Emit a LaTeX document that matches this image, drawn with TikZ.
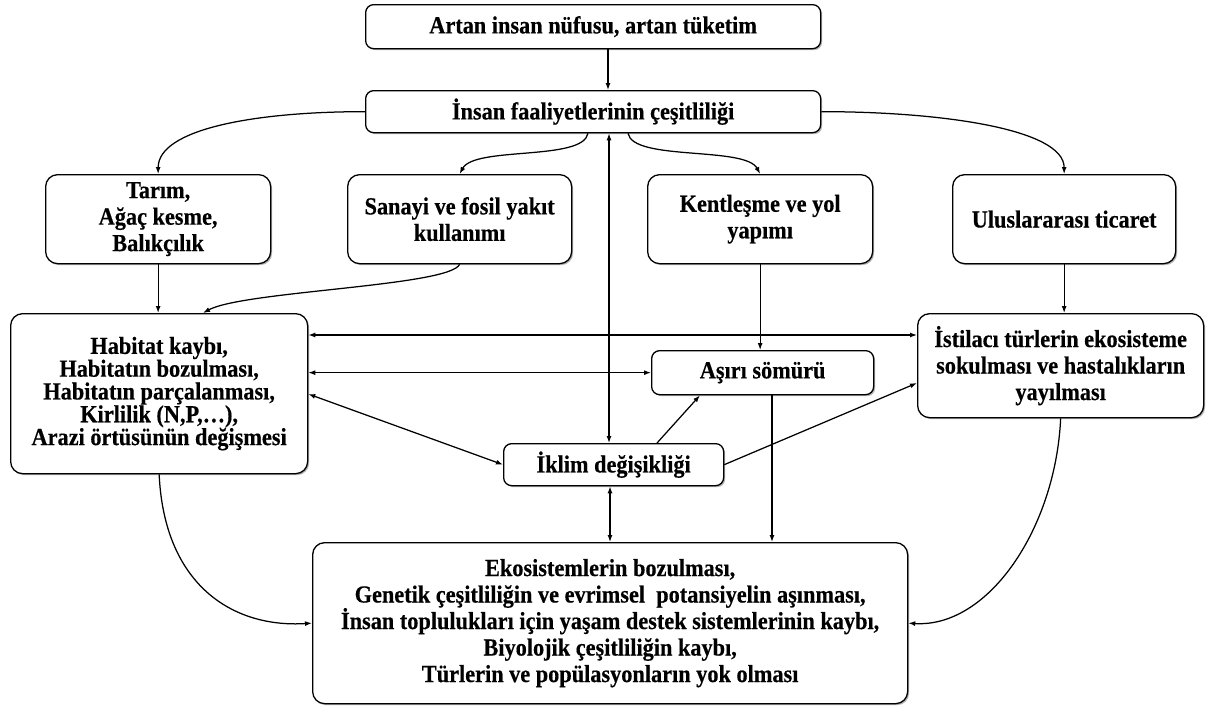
\documentclass[tikz,border=0pt]{standalone}
\usepackage{fontspec}
\setmainfont{Liberation Serif}
\newfontfamily\dfont{Liberation Serif Bold}[FakeStretch=0.91, FakeBold=0.4]
\usetikzlibrary{arrows.meta,calc,shadows}
\begin{document}
\begin{tikzpicture}[x=1pt,y=-1pt,
  box/.style={draw, line width=1.3pt, rounded corners=12pt, fill=white, align=center,
    anchor=north west, inner sep=0pt, font=\dfont\fontsize{24.5}{26.5}\selectfont,
    drop shadow={shadow xshift=1.5pt, shadow yshift=-1.5pt, fill=black, opacity=0.3}},
  sbox/.style={box, rounded corners=8pt},
  arr/.style={line width=1.25pt, -{Latex[length=7pt,width=5pt]}},
  darr/.style={line width=1.25pt, {Latex[length=7pt,width=5pt]}-{Latex[length=7pt,width=5pt]}},
]
\fill[white] (0,0) rectangle (1210,707);
\useasboundingbox (0,0) rectangle (1210,707);

\node[sbox, minimum width=455pt, minimum height=44pt] (top) at (365,4) {Artan insan nüfusu, artan tüketim};
\node[sbox, minimum width=455pt, minimum height=42pt] (ins) at (365,90) {İnsan faaliyetlerinin çeşitliliği};
\node[box, minimum width=225pt, minimum height=89pt] (tar) at (45,174) {Tarım,\\Ağaç kesme,\\Balıkçılık};
\node[box, minimum width=224pt, minimum height=89pt] (san) at (347,174) {Sanayi ve fosil yakıt\\kullanımı};
\node[box, minimum width=225pt, minimum height=89pt] (ken) at (647,174) {Kentleşme ve yol\\yapımı};
\node[box, minimum width=223pt, minimum height=89pt] (ulu) at (952,174) {Uluslararası ticaret};
\node[box, minimum width=297pt, minimum height=160pt, font=\dfont\fontsize{24.5}{22.8}\selectfont] (hab) at (10,313)
  {Habitat kaybı,\\Habitatın bozulması,\\Habitatın parçalanması,\\Kirlilik (N,P,…),\\Arazi örtüsünün değişmesi};
\node[box, minimum width=286pt, minimum height=104pt] (ist) at (917,313) {İstilacı türlerin ekosisteme\\sokulması ve hastalıkların\\yayılması};
\node[sbox, minimum width=222pt, minimum height=44pt] (asi) at (651,350) {Aşırı sömürü};
\node[sbox, minimum width=220pt, minimum height=42pt] (ikl) at (503,443) {İklim değişikliği};
\node[box, minimum width=595pt, minimum height=161pt] (bot) at (312,542)
  {Ekosistemlerin bozulması,\\Genetik çeşitliliğin ve evrimsel\ \ potansiyelin aşınması,\\İnsan toplulukları için yaşam destek sistemlerinin kaybı,\\Biyolojik çeşitliliğin kaybı,\\Türlerin ve popülasyonların yok olması};

% vertical links
\draw[arr] ($(top.south west)+(243,0)$) -- ($(ins.north west)+(243,0)$);
\draw[darr] ($(ins.south west)+(244,0)$) -- ($(ikl.north west)+(106,0)$);
\draw[darr] ($(ikl.south west)+(107,0)$) -- ($(bot.north west)+(298,0)$);
\draw[arr] (tar.south) -- (tar.south |- hab.north);
\draw[arr] (ken.south) -- (ken.south |- asi.north);
\draw[arr] (ulu.south) -- (ulu.south |- ist.north);
\draw[arr] ($(asi.south west)+(121,0)$) -- ($(bot.north west)+(460,0)$);

% curved links from activities
\draw[arr] (ins.west) .. controls +(-110,0) and +(0,-45) .. (tar.north);
\draw[arr] ($(ins.south west)+(223,0)$) .. controls +(-5,28) and +(15,-28) .. (san.north);
\draw[arr] ($(ins.south west)+(263,0)$) .. controls +(5,28) and +(-15,-28) .. (ken.north);
\draw[arr] (ins.east) .. controls +(120,0) and +(0,-45) .. (ulu.north);
\draw[arr] (san.south) .. controls +(-10,22) and +(40,-22) .. ($(hab.north west)+(193,0)$);

% horizontal / diagonal links
\draw[darr] ($(hab.north east)+(0,22)$) -- ($(ist.north west)+(0,22)$);
\draw[darr] (hab.east |- asi.west) -- (asi.west);
\draw[darr] ($(hab.north east)+(0,81)$) -- (ikl.west);
\draw[arr] ($(ikl.north west)+(154,0)$) -- ($(asi.south west)+(49,0)$);
\draw[arr] (ikl.east) -- ($(ist.north west)+(0,70)$);

% to the bottom box
\draw[arr] (hab.south) .. controls +(5,110) and +(-80,5) .. (bot.west);
\draw[arr] (ist.south) .. controls +(-5,110) and +(80,5) .. (bot.east);
\end{tikzpicture}
\end{document}
